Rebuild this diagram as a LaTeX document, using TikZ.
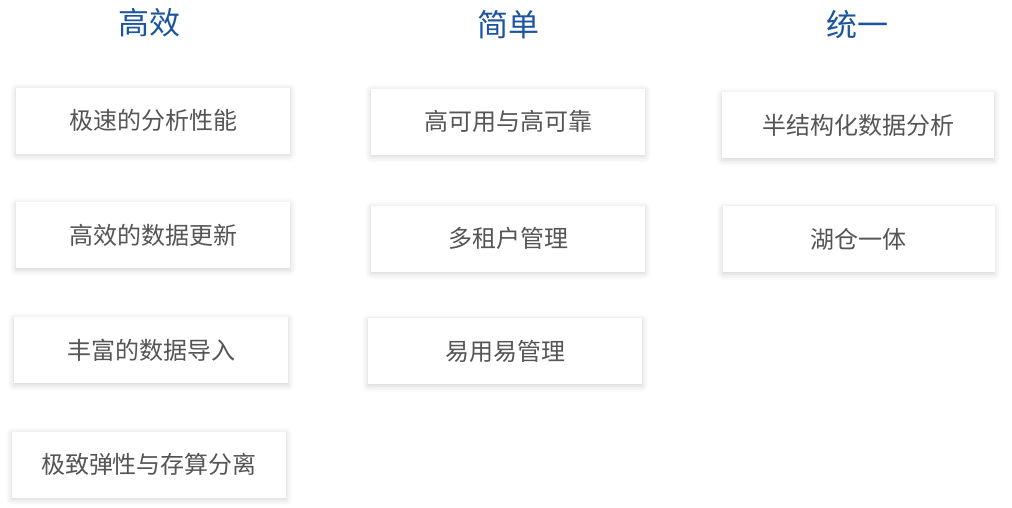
\documentclass[tikz,border=0pt]{standalone}
\usepackage{fontspec}
\setmainfont{Noto Sans CJK SC}
\usepackage{xcolor}
\definecolor{hblue}{HTML}{1B54A0}
\definecolor{tgray}{HTML}{555555}
\usepackage{tikz}
\usetikzlibrary{shadows.blur}

\begin{document}
\begin{tikzpicture}[x=1pt, y=-1pt,
    head/.style={text=hblue, font=\fontsize{31}{31}\selectfont},
    card/.style={fill=white, minimum width=274pt, minimum height=66pt, text=tgray,
        font=\fontsize{24}{24}\selectfont,
        blur shadow={shadow xshift=0pt, shadow yshift=-2pt, shadow blur radius=6pt, shadow opacity=18}}]
    \useasboundingbox (0, 0) rectangle (1012, 507);
    % headings
    \node[head] (gaoxiao) at (149, 23) {高效};
    \node[head] (jiandan) at (508, 25) {简单};
    \node[head] (tongyi) at (857, 25) {统一};
    % 高效
    \node[card] (jisu) at (153, 120.5) {极速的分析性能};
    \node[card] (gengxin) at (153, 235) {高效的数据更新};
    \node[card] (daoru) at (151, 350) {丰富的数据导入};
    \node[card] (tanxing) at (149, 464.5) {极致弹性与存算分离};
    % 简单
    \node[card] (kekao) at (508, 121.5) {高可用与高可靠};
    \node[card] (zuhu) at (508, 238.5) {多租户管理};
    \node[card] (yiyong) at (505, 351) {易用易管理};
    % 统一
    \node[card, minimum width=272pt] (banjiegou) at (858, 125) {半结构化数据分析};
    \node[card, minimum width=272pt] (hucang) at (858.5, 239) {湖仓一体};
\end{tikzpicture}
\end{document}
